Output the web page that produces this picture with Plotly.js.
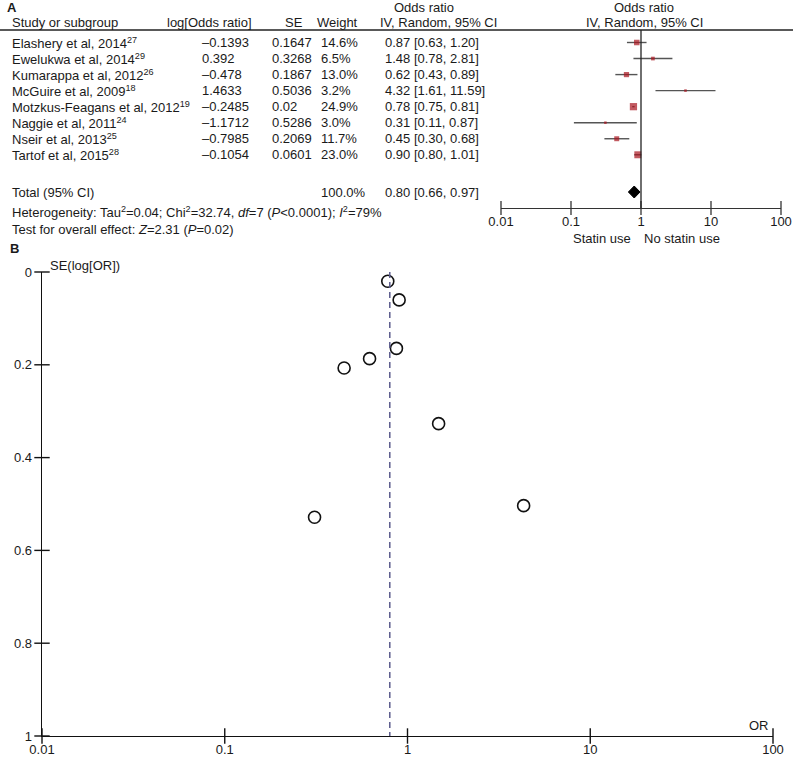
<!DOCTYPE html>
<html><head><meta charset="utf-8">
<script src="https://cdn.plot.ly/plotly-3.0.1.min.js"></script>
<style>body{margin:0;background:#fff}</style>
</head><body><div id="chart" style="width:793px;height:759px"></div>
<script>
// ---------------- data ----------------
const studies = ["Elashery et al, 2014<sup>27</sup>", "Ewelukwa et al, 2014<sup>29</sup>", "Kumarappa et al, 2012<sup>26</sup>",
  "McGuire et al, 2009<sup>18</sup>", "Motzkus-Feagans et al, 2012<sup>19</sup>", "Naggie et al, 2011<sup>24</sup>",
  "Nseir et al, 2013<sup>25</sup>", "Tartof et al, 2015<sup>28</sup>"];
const logOR = [-0.1393, 0.392, -0.478, 1.4633, -0.2485, -1.1712, -0.7985, -0.1054];
const seVals = [0.1647, 0.3268, 0.1867, 0.5036, 0.02, 0.5286, 0.2069, 0.0601];
const weights = [14.6, 6.5, 13.0, 3.2, 24.9, 3.0, 11.7, 23.0];
const orEst = [0.87, 1.48, 0.62, 4.32, 0.78, 0.31, 0.45, 0.90];
const ciLow = [0.63, 0.78, 0.43, 1.61, 0.75, 0.11, 0.30, 0.80];
const ciHigh = [1.20, 2.81, 0.89, 11.59, 0.81, 0.87, 0.68, 1.01];
const totalOR = 0.80, totalLow = 0.66, totalHigh = 0.97, totalWeight = 100.0;
const orTickVals = [0.01, 0.1, 1, 10, 100];
const orTickText = ["0.01", "0.1", "1", "10", "100"];
const seTickVals = [0, 0.2, 0.4, 0.6, 0.8, 1];
const seTickText = ["0", "0.2", "0.4", "0.6", "0.8", "1"];

// ---------------- layout helpers ----------------
const W = 793, H = 759;
const px = x => x / W, py = y => 1 - y / H;
const ROW0 = 42.5, ROWSTEP = 16.04;
const rowOf = p => (p - ROW0) / ROWSTEP;
const FOREST_TOP = rowOf(30), FOREST_BOT = rowOf(208);
const TOTAL_ROW = rowOf(192);
const fmtNum = v => String(v).replace('-', '\u2013');
const rows = studies.map((s, i) => i);
const txt = '#1a1a1a';
const red = '#a8141e';

const traces = [];
// CI lines
const ciX = [], ciY = [];
rows.forEach(i => { ciX.push(ciLow[i], ciHigh[i], null); ciY.push(i, i, null); });
traces.push({x: ciX, y: ciY, xaxis: 'x', yaxis: 'y', mode: 'lines', line: {color: '#555', width: 1.4}, hoverinfo: 'skip'});
// squares
traces.push({x: orEst, y: rows, xaxis: 'x', yaxis: 'y', mode: 'markers',
  marker: {symbol: 'square', color: red, size: weights.map(w => 1.45 * Math.sqrt(w)), line: {width: 0}}});
// diamond
const dh = 6 / ROWSTEP;
traces.push({x: [totalLow, totalOR, totalHigh, totalOR, totalLow], y: [TOTAL_ROW, TOTAL_ROW - dh, TOTAL_ROW, TOTAL_ROW + dh, TOTAL_ROW],
  xaxis: 'x', yaxis: 'y', mode: 'lines', fill: 'toself', fillcolor: '#000', line: {color: '#000', width: 1}});
// forest crossing ticks
traces.push({x: orTickVals, y: orTickVals.map(() => FOREST_BOT), xaxis: 'x', yaxis: 'y', mode: 'markers', cliponaxis: false,
  marker: {symbol: 'line-ns', size: 10, line: {color: '#333', width: 1.3}}});

// funnel points
traces.push({x: orEst, y: seVals, xaxis: 'x2', yaxis: 'y2', mode: 'markers', cliponaxis: false,
  marker: {symbol: 'circle-open', size: 12, color: '#111', line: {width: 1.6, color: '#111'}}});
// pooled dashed line
traces.push({x: [totalOR, totalOR], y: [0, 1], xaxis: 'x2', yaxis: 'y2', mode: 'lines', cliponaxis: false,
  line: {color: '#5b5b8c', width: 1.5, dash: '6px,4px'}});
// funnel crossing ticks
traces.push({x: orTickVals, y: orTickVals.map(() => 1), xaxis: 'x2', yaxis: 'y2', mode: 'markers', cliponaxis: false,
  marker: {symbol: 'line-ns', size: 11, line: {color: '#111', width: 1.4}}});
traces.push({x: seTickVals.map(() => 0.01), y: seTickVals, xaxis: 'x2', yaxis: 'y2', mode: 'markers', cliponaxis: false,
  marker: {symbol: 'line-ew', size: 11, line: {color: '#111', width: 1.4}}});

// ---------------- annotations ----------------
const ann = [];
function A(text, x, y, xanchor, opts) {
  ann.push(Object.assign({text: text, x: px(x), y: py(y), xref: 'paper', yref: 'paper', xanchor: xanchor || 'left',
    yanchor: 'middle', showarrow: false, font: {size: 13, color: txt}}, opts || {}));
}
function R(text, x, row, xanchor) {
  ann.push({text: text, x: px(x), y: row, xref: 'paper', yref: 'y', xanchor: xanchor || 'left', yanchor: 'middle',
    showarrow: false, font: {size: 13, color: txt}});
}
A('<b>A</b>', 5, 7);
A('Odds ratio', 424, 7, 'center');
A('Odds ratio', 644, 7, 'center');
A('Study or subgroup', 10, 23);
A('log[Odds ratio]', 254, 23, 'right');
A('SE', 305, 23, 'right');
A('Weight', 360, 23, 'right');
A('IV, Random, 95% CI', 438, 23, 'center');
A('IV, Random, 95% CI', 644, 23, 'center');
rows.forEach(i => {
  R(studies[i], 10, i);
  R(fmtNum(logOR[i]), 200, i);
  R(fmtNum(seVals[i]), 270, i);
  R(weights[i].toFixed(1) + '%', 319, i);
  R(orEst[i].toFixed(2) + ' [' + ciLow[i].toFixed(2) + ', ' + ciHigh[i].toFixed(2) + ']', 383, i);
});
R('Total (95% CI)', 10, TOTAL_ROW);
R(totalWeight.toFixed(1) + '%', 319, TOTAL_ROW);
R(totalOR.toFixed(2) + ' [' + totalLow.toFixed(2) + ', ' + totalHigh.toFixed(2) + ']', 383, TOTAL_ROW);
A('Heterogeneity: Tau<sup>2</sup>=0.04; Chi<sup>2</sup>=32.74, <i>df</i>=7 (<i>P</i>&lt;0.0001); <i>I</i><sup>2</sup>=79%', 10, 212);
A('Test for overall effect: <i>Z</i>=2.31 (<i>P</i>=0.02)', 10, 229);
A('Statin use', 633, 238, 'right');
A('No statin use', 642, 238, 'left');
A('<b>B</b>', 8, 248);
A('SE(log[OR])', 48, 265);
A('OR', 771, 725, 'right');

const shapes = [
  {type: 'line', xref: 'paper', yref: 'paper', x0: 0, x1: 1, y0: py(30), y1: py(30), line: {color: '#222', width: 1.3}},
  {type: 'line', xref: 'x', yref: 'y', x0: 1, x1: 1, y0: FOREST_TOP, y1: FOREST_BOT, line: {color: '#222', width: 1.3}}
];

const axBase = {showgrid: false, zeroline: false, showline: true, fixedrange: true};
const clear = 'rgba(0,0,0,0)';
const layout = {
  width: W, height: H, margin: {l: 0, r: 0, t: 0, b: 0}, showlegend: false,
  paper_bgcolor: '#fff', plot_bgcolor: clear,
  font: {family: '"Liberation Sans", Arial, sans-serif', size: 13, color: txt},
  xaxis: Object.assign({}, axBase, {type: 'log', range: [-2, 2], domain: [px(501), px(781)], anchor: 'y',
    linecolor: '#333', linewidth: 1.3, ticks: 'outside', ticklen: 1, tickwidth: 1, tickcolor: clear,
    tickvals: orTickVals, ticktext: orTickText, tickfont: {size: 13, color: txt}}),
  yaxis: {domain: [py(208), py(30)], range: [FOREST_BOT, FOREST_TOP], visible: false, anchor: 'x', fixedrange: true},
  xaxis2: Object.assign({}, axBase, {type: 'log', range: [-2, 2], domain: [px(42), px(773)], anchor: 'y2',
    linecolor: '#111', linewidth: 1.4, ticks: 'outside', ticklen: 1, tickwidth: 1, tickcolor: clear,
    tickvals: orTickVals, ticktext: orTickText, tickfont: {size: 13, color: txt}}),
  yaxis2: Object.assign({}, axBase, {range: [1, 0], domain: [py(736), py(272)], anchor: 'x2',
    linecolor: '#111', linewidth: 1.4, ticks: 'outside', ticklen: 6, tickwidth: 1, tickcolor: clear,
    tickvals: seTickVals, ticktext: seTickText, tickfont: {size: 13, color: txt}}),
  shapes: shapes,
  annotations: ann
};
Plotly.newPlot('chart', traces, layout, {displayModeBar: false, staticPlot: true});
</script>
</body></html>
